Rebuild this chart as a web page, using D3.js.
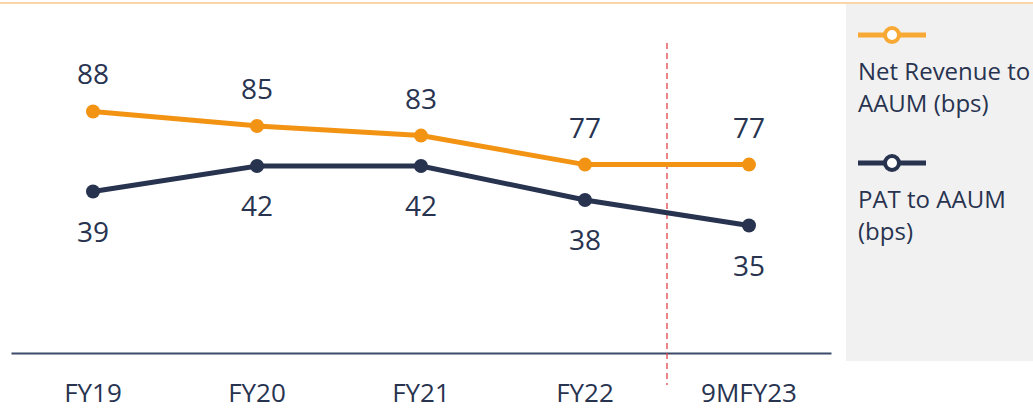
<!DOCTYPE html>
<meta charset="utf-8">
<style>
body { margin: 0; background: #fff; }
text { font-family: "Open Sans", sans-serif; fill: #283350; }
</style>
<svg width="1033" height="411"></svg>
<script src="https://cdn.jsdelivr.net/npm/d3@7"></script>
<script>
// data
var years = ["FY19", "FY20", "FY21", "FY22", "9MFY23"];
var netRevenue = [88, 85, 83, 77, 77];
var pat = [39, 42, 42, 38, 35];
var seriesNames = ["Net Revenue to AAUM (bps)", "PAT to AAUM (bps)"];

var orange = "#f39313",
    navy = "#283350";

var svg = d3.select("svg");

// top rule + legend panel
svg.append("line")
    .attr("x1", 0).attr("x2", 1033)
    .attr("y1", 3).attr("y2", 3)
    .attr("stroke", "#f8c98a")
    .attr("stroke-width", 1.5);

svg.append("rect")
    .attr("x", 846).attr("y", 4)
    .attr("width", 187).attr("height", 357)
    .attr("fill", "#f1f1f1");

// scales (two value axes, hidden)
var x = d3.scaleBand().domain(years).range([11, 831]);
var yRev = d3.scaleLinear().domain([38, 109]).range([353, 10]);
var yPat = d3.scaleLinear().domain([20, 60]).range([353, 13]);
var cx = function(d, i) { return x(years[i]) + x.bandwidth() / 2; };

// baseline + category labels
var xAxis = svg.append("g")
    .attr("transform", "translate(0,353)")
    .call(d3.axisBottom(x).tickSize(0).tickPadding(31));
xAxis.select(".domain").attr("stroke", "#3b4a6b").attr("stroke-width", 2);
xAxis.selectAll("text")
    .style("font-family", "'Open Sans', sans-serif")
    .style("font-size", "26px")
    .attr("fill", navy);

// dashed divider before 9MFY23
svg.append("line")
    .attr("x1", x("9MFY23")).attr("x2", x("9MFY23"))
    .attr("y1", 43).attr("y2", 385)
    .attr("stroke", "#e0353a")
    .attr("stroke-width", 1.2)
    .attr("stroke-dasharray", "6,4");

function drawSeries(vals, y, color, dy) {
  var line = d3.line()
      .x(cx)
      .y(function(d) { return y(d); });
  svg.append("path")
      .datum(vals)
      .attr("d", line)
      .attr("fill", "none")
      .attr("stroke", color)
      .attr("stroke-width", 5);
  svg.selectAll(null)
      .data(vals).enter().append("circle")
      .attr("cx", cx)
      .attr("cy", function(d) { return y(d); })
      .attr("r", 7)
      .attr("fill", color);
  svg.selectAll(null)
      .data(vals).enter().append("text")
      .attr("x", cx)
      .attr("y", function(d) { return y(d) + dy; })
      .attr("text-anchor", "middle")
      .style("font-size", "28px")
      .text(function(d) { return d; });
}

drawSeries(netRevenue, yRev, orange, -27);
drawSeries(pat, yPat, navy, 50);

// legend
var legend = [
  {name: seriesNames[0], color: "#f7a933", y: 35, lines: ["Net Revenue to", "AAUM (bps)"]},
  {name: seriesNames[1], color: navy, y: 163, lines: ["PAT to AAUM", "(bps)"]}
];
legend.forEach(function(l) {
  var g = svg.append("g");
  g.append("line")
      .attr("x1", 858).attr("x2", 926)
      .attr("y1", l.y).attr("y2", l.y)
      .attr("stroke", l.color).attr("stroke-width", 5);
  g.append("circle")
      .attr("cx", 892).attr("cy", l.y).attr("r", 7)
      .attr("fill", "#fff")
      .attr("stroke", l.color).attr("stroke-width", 4);
  g.selectAll("text")
      .data(l.lines).enter().append("text")
      .attr("x", 858)
      .attr("y", function(d, i) { return l.y + 45 + i * 32; })
      .style("font-size", "24px")
      .text(function(d) { return d; });
});
</script>
